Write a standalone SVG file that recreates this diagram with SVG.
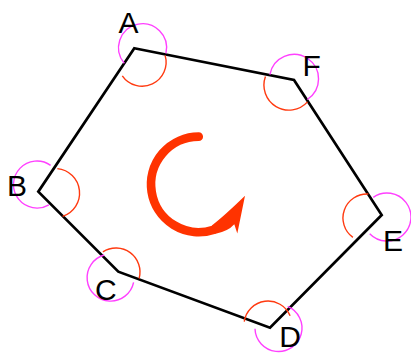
<svg xmlns="http://www.w3.org/2000/svg" width="411" height="354" viewBox="0 0 411 354">
<style>
.edge{fill:none;stroke:#000;stroke-width:2.7;stroke-linejoin:miter}
.ext{fill:none;stroke:#ff40ff;stroke-width:1.4}
.int{fill:none;stroke:#ff3a10;stroke-width:1.4}
.lbl{font-family:"Liberation Sans",Arial,sans-serif;font-size:30px;fill:#000;text-anchor:middle}
</style>
<rect width="411" height="354" fill="#fff"/>
<g id="connectors">
<polygon class="edge" points="134.3,48.3 294,80 381.7,215 270,327.7 118.3,271.7 38.3,191.7"/>
</g>
<g id="A">
<path class="ext" d="M124.3,63.3 A24,24 0 1 1 165.9,53.3"/>
<path class="int" d="M165.1,55.4 A24,24 0 0 1 122.3,75.8"/>
<text class="lbl" x="128.5" y="33">A</text>
</g>
<g id="F">
<path class="ext" d="M269.9,74.7 A24.5,24.5 0 1 1 307.3,99.5"/>
<path class="int" d="M265.45,76.6 A25,25 0 0 0 307.5,101.9"/>
<text class="lbl" x="311.7" y="75.7">F</text>
</g>
<g id="E">
<path class="ext" d="M373.3,197.3 A24,24 0 1 1 369.7,233.7"/>
<path class="int" d="M368.3,194 A24,24 0 0 0 352.9,237.4"/>
<text class="lbl" x="393" y="251">E</text>
</g>
<g id="D">
<path class="int" d="M244.25,321.6 A24,24 0 0 1 290.1,315.7"/>
<path class="ext" d="M287.7,306.4 A23.5,23.5 0 1 1 255,328.8"/>
<text class="lbl" x="290" y="346.5">D</text>
</g>
<g id="C">
<path class="int" d="M102.9,251.9 A24,24 0 0 1 139.1,278.5"/>
<path class="ext" d="M104.2,255 A23.5,23.5 0 1 0 133.6,282.4"/>
<text class="lbl" x="105.8" y="299.5">C</text>
</g>
<g id="B">
<path class="ext" d="M50.6,165.4 A23.5,23.5 0 1 0 48.9,204.8"/>
<path class="int" d="M57.35,168.6 A24.5,24.5 0 0 1 62.6,216.3"/>
<text class="lbl" x="17" y="195.7">B</text>
</g>
<g id="rotation">
<path d="M198.7,136.7 A47.7,47.7 0 1 0 213.4,229.8" fill="none" stroke="#ff3300" stroke-width="8.7" stroke-linecap="round"/>
<path d="M211.8,225.4 Q223,217 245,195.7 L237.3,233.5 L234.3,224.3 Q228,231.5 214.8,234 Z" fill="#ff3300"/>
</g>
</svg>
